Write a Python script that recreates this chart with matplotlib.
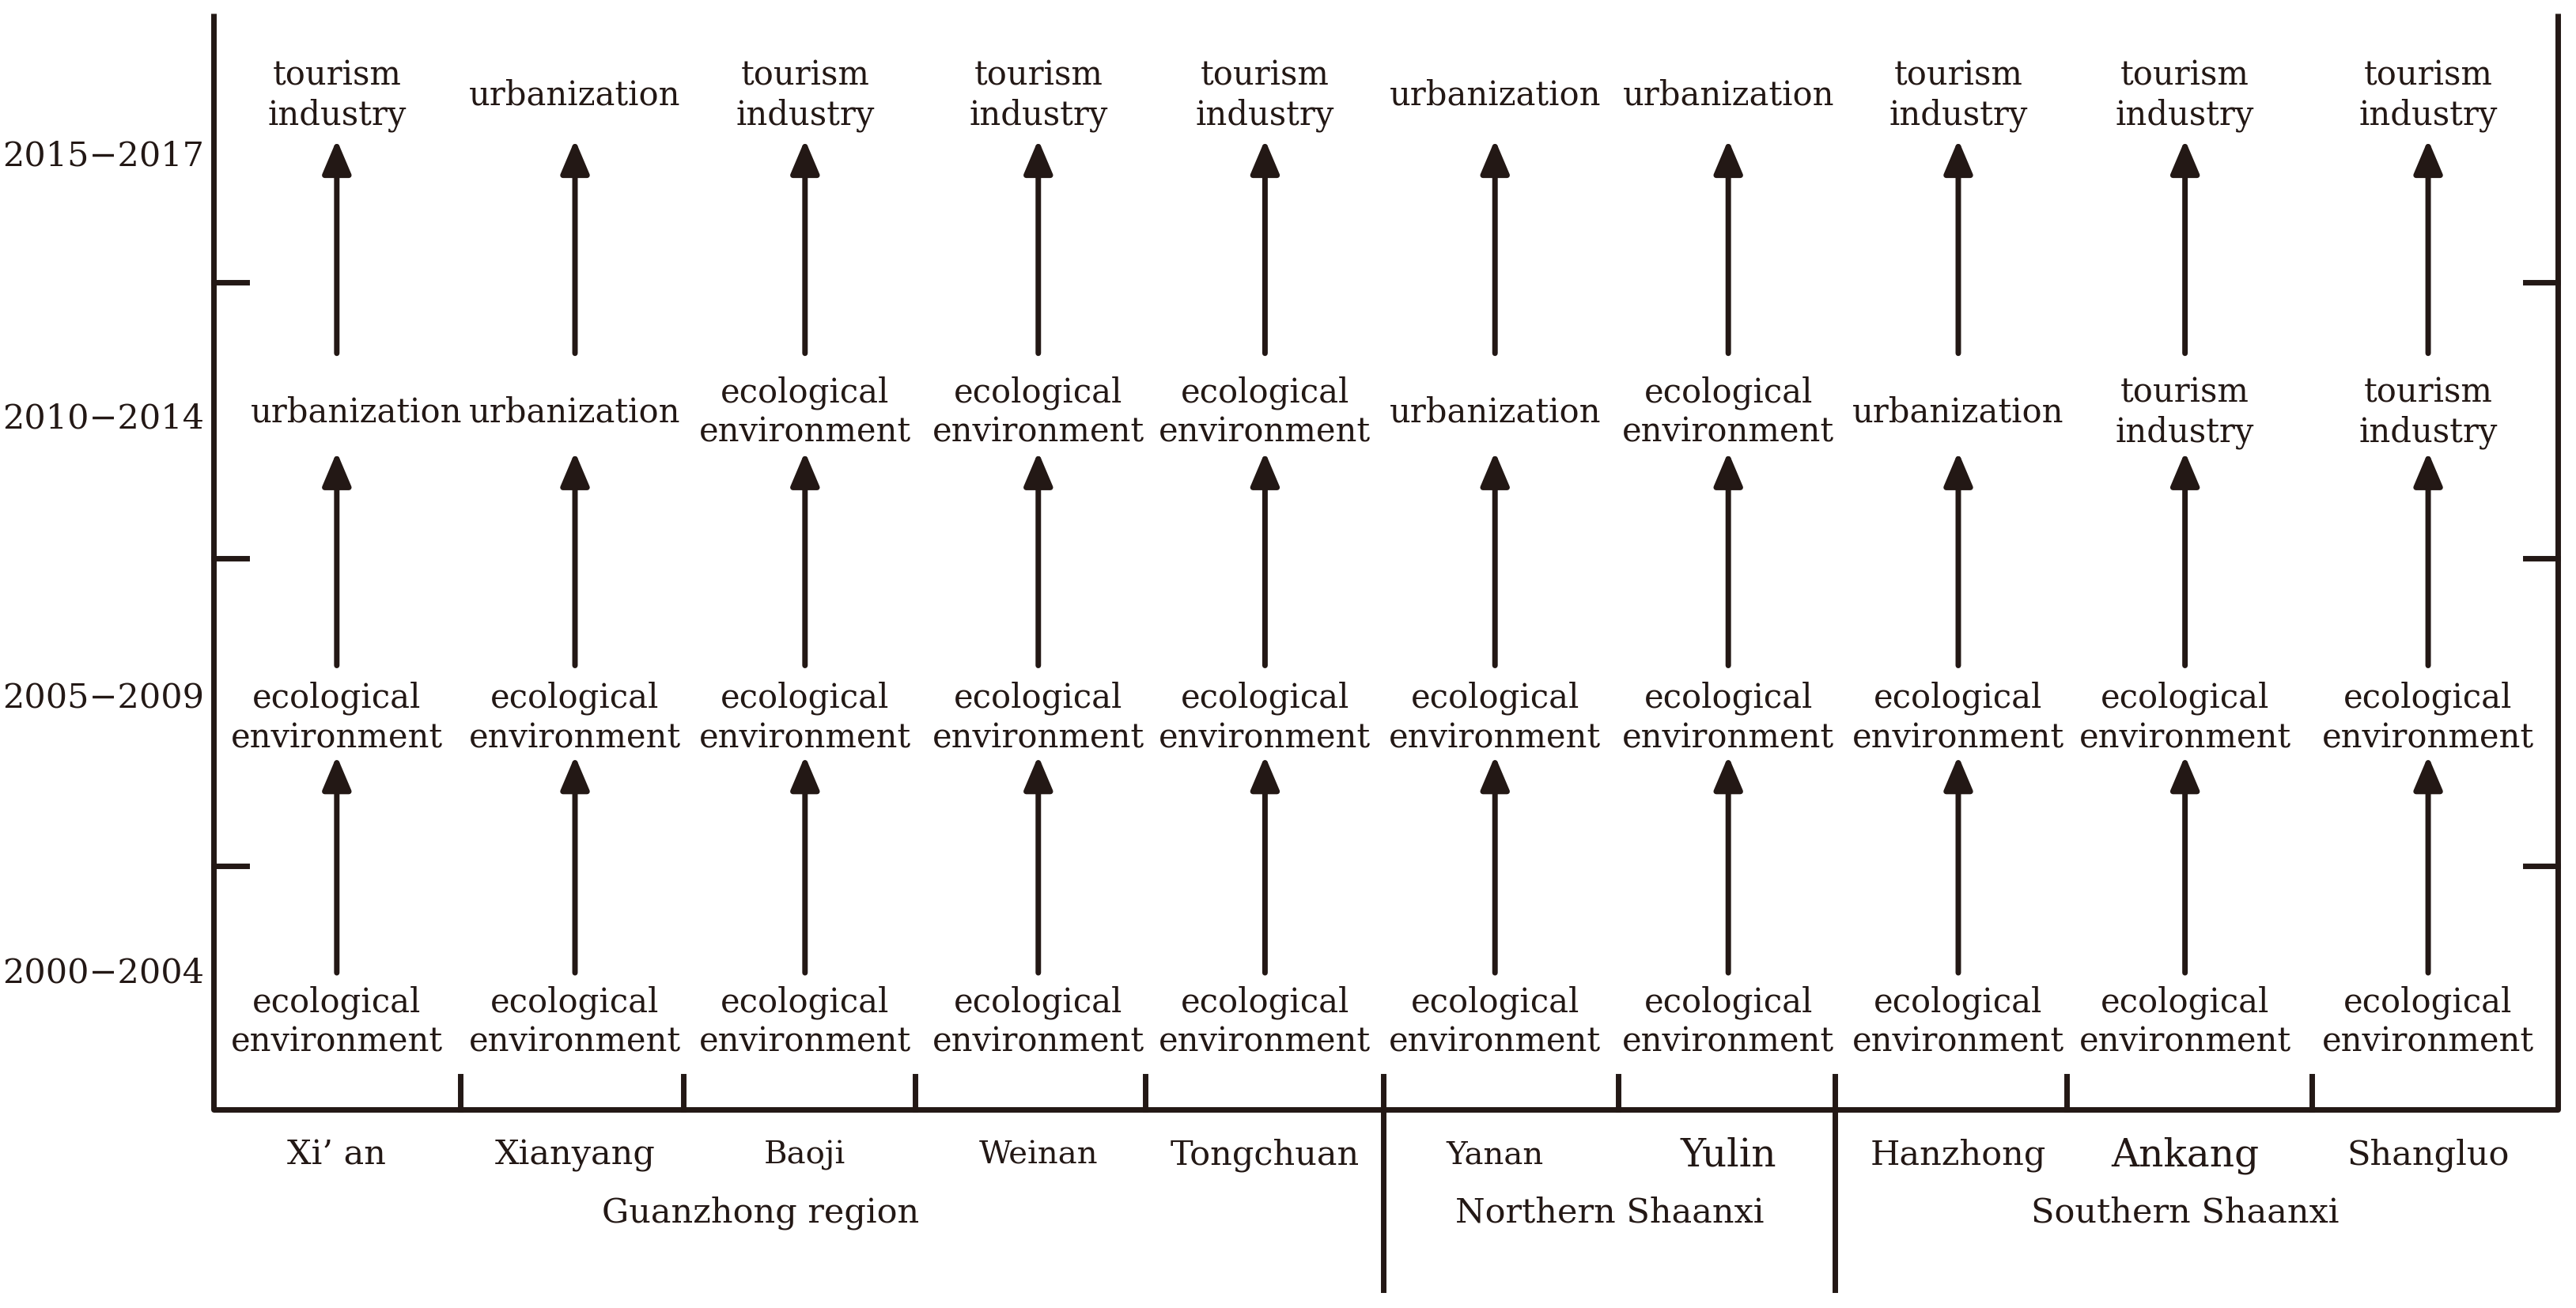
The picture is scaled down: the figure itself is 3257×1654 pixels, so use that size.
import matplotlib.pyplot as plt

plt.rcParams['font.family'] = ['DejaVu Serif']

cities = ["Xi\u2019 an", "Xianyang", "Baoji", "Weinan", "Tongchuan",
          "Yanan", "Yulin", "Hanzhong", "Ankang", "Shangluo"]
periods = ["2000\u22122004", "2005\u22122009", "2010\u22122014", "2015\u22122017"]
regions = ["Guanzhong region", "Northern Shaanxi", "Southern Shaanxi"]

EE = "ecological\nenvironment"
TI = "tourism\nindustry"
UR = "urbanization"
stage_2000 = [EE] * 10
stage_2005 = [EE] * 10
stage_2010 = [UR, UR, EE, EE, EE, UR, EE, UR, TI, TI]
stage_2015 = [TI, UR, TI, TI, TI, UR, UR, TI, TI, TI]

# layout (display units, image ~1568 x 796)
col_x = [205, 350, 490, 632, 770, 910, 1052, 1192, 1330, 1478]
period_y = [592, 425, 255, 95]
text_y = [622, 437, 251, 58]
arrows = [(592, 460), (405, 275), (215, 85)]
city_size = [31, 31, 29, 29, 31, 29, 35, 31, 35, 31]

fig = plt.figure(figsize=(32.57, 16.54), dpi=100)
ax = fig.add_axes([0, 0, 1, 1])
ax.set_xlim(0, 1568)
ax.set_ylim(796, 0)
ax.axis('off')

lc = '#231815'
lw = 5
ax.plot([130, 130, 1557, 1557], [8, 675, 675, 8], color=lc, lw=lw, solid_capstyle='butt')
for y in [172, 340, 527]:
    ax.plot([130, 150], [y, y], color=lc, lw=lw)
    ax.plot([1537, 1557], [y, y], color=lc, lw=lw)
for x in [280, 416, 557, 697, 985, 1258, 1407]:
    ax.plot([x, x], [655, 675], color=lc, lw=lw)
for x in [842, 1117]:
    ax.plot([x, x], [655, 785], color=lc, lw=lw)

for y, p in zip(period_y, periods):
    ax.text(63, y, p, ha='center', va='center', fontsize=31, color=lc)

for i, x in enumerate(col_x):
    stages = [stage_2000[i], stage_2005[i], stage_2010[i], stage_2015[i]]
    for ty, s in zip(text_y, stages):
        xx = x + 12 if (i == 0 and s == UR) else x
        ax.text(xx, ty, s, ha='center', va='center', fontsize=30,
                color=lc, linespacing=1.25)
    for (y0, y1) in arrows:
        ax.annotate('', xy=(x, y1), xytext=(x, y0),
                    arrowprops=dict(arrowstyle='-|>,head_length=2.6,head_width=1.1',
                                    color=lc, lw=5, shrinkA=0, shrinkB=0))
    ax.text(x, 703, cities[i], ha='center', va='center',
            fontsize=city_size[i], color=lc)

for x, r in zip([463, 980, 1330], regions):
    ax.text(x, 738, r, ha='center', va='center', fontsize=31, color=lc)

fig.savefig('out.png', dpi=100)
